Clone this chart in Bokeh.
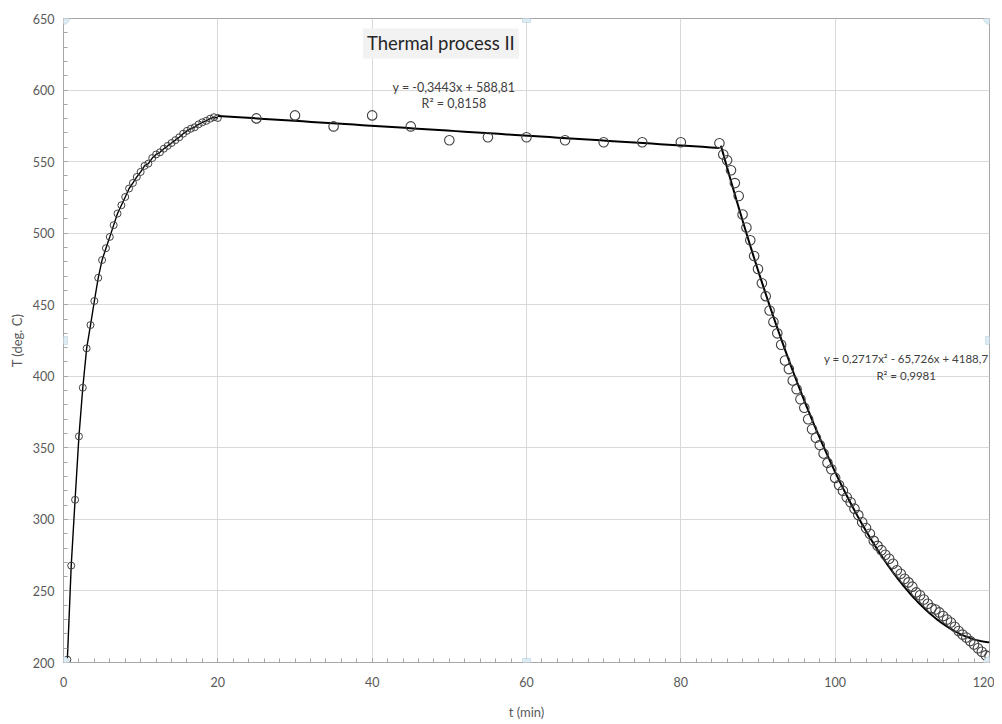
import numpy as np
from bokeh.plotting import figure
from bokeh.models import Label, BoxAnnotation, Range1d, SingleIntervalTicker
from bokeh.embed import file_html
from bokeh.resources import INLINE

# ---------------- data ----------------
heat_t = [0.5, 1, 1.5, 2, 2.5, 3, 3.5, 4, 4.5, 5, 5.5, 6, 6.5, 7, 7.5, 8, 8.5, 9, 9.5, 10,
          10.5, 11, 11.5, 12, 12.5, 13, 13.5, 14, 14.5, 15, 15.5, 16, 16.5, 17, 17.5, 18,
          18.5, 19, 19.5, 20]
heat_T = [202, 267.7, 313.7, 358, 392, 419.5, 435.8, 452.6, 468.8, 481.2, 489.5, 497.4,
          505.6, 513.7, 519.5, 525.3, 531.2, 535.1, 539.3, 542.8, 547, 548.6, 552.5, 555,
          556.5, 559, 561, 563, 565, 567, 569.5, 571.5, 573, 574, 576, 577.5, 578.5, 580,
          581, 580.5]

hold_t = [25, 30, 35, 40, 45, 50, 55, 60, 65, 70, 75, 80, 85]
hold_T = [580.2, 582.3, 574.6, 582.3, 574.6, 564.9, 567, 567, 564.9, 563.5, 563.5, 563.5, 562.8]

cool_t = [85.5, 86, 86.5, 87, 87.5, 88, 88.5, 89, 89.5, 90, 90.5, 91, 91.5, 92, 92.5, 93,
          93.5, 94, 94.5, 95, 95.5, 96, 96.5, 97, 97.5, 98, 98.5, 99, 99.5, 100, 100.5, 101,
          101.5, 102, 102.5, 103, 103.5, 104, 104.5, 105, 105.5, 106, 106.5, 107, 107.5, 108,
          108.5, 109, 109.5, 110, 110.5, 111, 111.5, 112, 112.5, 113, 113.5, 114, 114.5, 115,
          115.5, 116, 116.5, 117, 117.5, 118, 118.5, 119, 119.5, 120]
cool_T = [555, 551, 544, 535, 526, 513, 504, 495, 484, 475, 465, 456, 446, 438, 430, 422,
          411, 405, 397, 391, 384, 378, 370, 363, 357, 352, 346, 339.5, 335, 329, 324, 320,
          315.5, 312, 307.5, 303, 298, 294, 290, 285, 281.5, 278.5, 275.3, 272.5, 269, 264.5,
          262, 258.5, 256, 253, 249, 247, 244, 241, 238, 237, 235, 232.5, 230, 228,
          225, 222, 219.5, 217.5, 215, 212.6, 210, 207.5, 205, 204.5]

lin_coef = [-0.3443, 588.81]            # y = a x + b
lin_span = [20, 85]
poly_coef = [0.2717, -65.726, 4188.7]   # y = a x^2 + b x + c
poly_span = [85.2, 120]

title_text = "Thermal process II"
eq1 = ["y = -0,3443x + 588,81", "R² = 0,8158"]
eq2 = ["y = 0,2717x² - 65,726x + 4188,7", "R² = 0,9981"]
x_label = "t (min)"
y_label = "T (deg. C)"

# ---------------- figure ----------------
FONT = "Lato"
p = figure(width=994, height=722, output_backend="svg", toolbar_location=None,
           x_range=Range1d(0, 120), y_range=Range1d(200, 650),
           min_border_left=63, min_border_right=5, min_border_top=18, min_border_bottom=59)
p.background_fill_color = "white"
p.border_fill_color = "white"
p.outline_line_color = "#a6a6a6"

for ax, step, mstep in ((p.xaxis[0], 20, 2), (p.yaxis[0], 50, 10)):
    ax.ticker = SingleIntervalTicker(interval=step, num_minor_ticks=step // mstep)
    ax.axis_line_color = "#a6a6a6"
    ax.major_tick_in = 4
    ax.major_tick_out = 0
    ax.minor_tick_in = 4
    ax.minor_tick_out = 0
    ax.major_tick_line_color = "#a6a6a6"
    ax.minor_tick_line_color = "#a6a6a6"
    ax.major_label_text_font = FONT
    ax.major_label_text_font_size = "12.5px"
    ax.major_label_text_color = "#595959"
    ax.axis_label_text_font = FONT
    ax.axis_label_text_font_size = "13px"
    ax.axis_label_text_font_style = "normal"
    ax.axis_label_text_color = "#595959"
p.xaxis.major_label_standoff = 14
p.yaxis.major_label_standoff = 9
p.xaxis.axis_label = x_label
p.yaxis.axis_label = y_label
p.xaxis.axis_label_standoff = 14
p.yaxis.axis_label_standoff = 5

p.xgrid.ticker = SingleIntervalTicker(interval=20)
p.ygrid.ticker = SingleIntervalTicker(interval=50)
p.grid.grid_line_color = "#d9d9d9"
p.grid.grid_line_width = 1

# heating series: line with markers
p.line(heat_t, heat_T, line_color="black", line_width=1.4)
p.scatter(heat_t, heat_T, marker="circle", size=7, fill_alpha=0,
          line_color="#404040", line_width=1)

# trend lines
xl = np.linspace(lin_span[0], lin_span[1], 60)
p.line(xl, np.polyval(lin_coef, xl), line_color="black", line_width=2)
xp = np.linspace(poly_span[0], poly_span[1], 300)
p.line(xp, np.polyval(poly_coef, xp), line_color="black", line_width=2)

# other points
p.scatter(hold_t, hold_T, marker="circle", size=9.5, fill_alpha=0,
          line_color="#404040", line_width=1.1)
p.scatter(cool_t, cool_T, marker="circle", size=9.5, fill_alpha=0,
          line_color="#404040", line_width=1.1)

# title box
p.add_layout(Label(x=48.9, y=632.6, text=title_text, text_align="center",
                   text_baseline="middle", text_font=FONT, text_font_size="18.5px",
                   text_color="#262626", background_fill_color="#f2f2f2", padding=4))

# equations
for txt, yy in zip(eq1, (602.1, 590.9)):
    p.add_layout(Label(x=50.6, y=yy, text=txt, text_align="center", text_baseline="middle",
                       text_font=FONT, text_font_size="12.5px", text_color="#404040"))
for txt, yy in zip(eq2, (412.6, 400.4)):
    p.add_layout(Label(x=109.2, y=yy, text=txt, text_align="center", text_baseline="middle",
                       text_font=FONT, text_font_size="11.5px", text_color="#404040"))

# selection handles at the frame corners / edge midpoints
xr, yr = p.x_range, p.y_range
hx = [xr.start, (xr.start + xr.end) / 2, xr.end]
hy = [yr.start, (yr.start + yr.end) / 2, yr.end]
px_x = 926 / (xr.end - xr.start)
px_y = 645 / (yr.end - yr.start)
for i, cx in enumerate(hx):
    for j, cy in enumerate(hy):
        if i == 1 and j == 1:
            continue
        corner = (i != 1 and j != 1)
        r = 6 if corner else 4
        p.add_layout(BoxAnnotation(left=cx - r / px_x, right=cx + r / px_x,
                                   bottom=cy - r / px_y, top=cy + r / px_y,
                                   fill_color="#dcecf5", fill_alpha=1,
                                   line_color="#8fb3c8", line_width=1,
                                   border_radius=r if corner else 0, level="overlay"))

open("out.html", "w").write(file_html(p, INLINE))
